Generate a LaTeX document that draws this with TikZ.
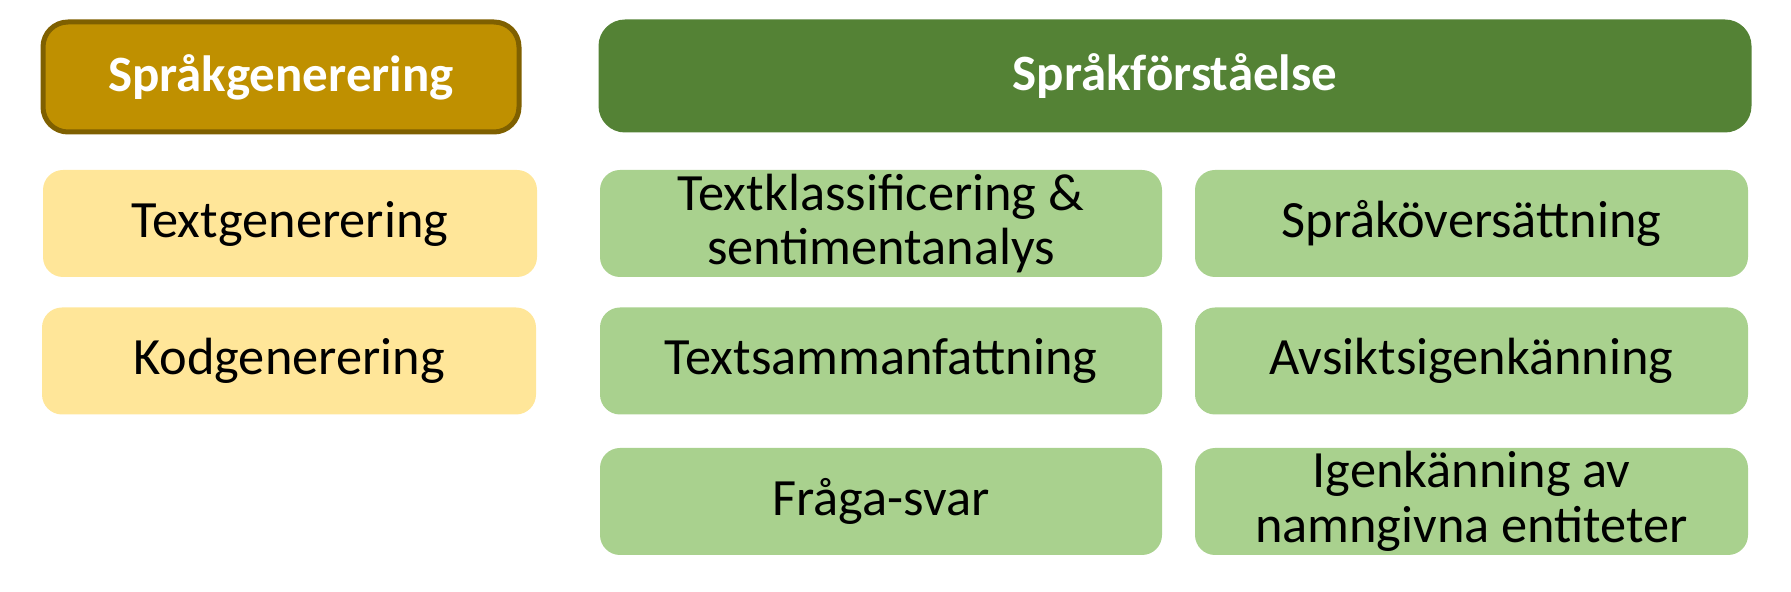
\documentclass[tikz,border=0pt]{standalone}
\usepackage{fontspec}
\setmainfont{Carlito}
\usepackage{tikz}

\definecolor{guld}{HTML}{BF9000}
\definecolor{guldkant}{HTML}{7F6000}
\definecolor{gulruta}{HTML}{FFE699}
\definecolor{gron}{HTML}{548235}
\definecolor{gronruta}{HTML}{A9D18E}

\tikzset{
  rubrik/.style={rounded corners=2.5mm, inner sep=0pt, minimum height=11mm,
      text=white, font=\fontsize{14.5}{15}\selectfont\bfseries},
  ruta/.style={rounded corners=2mm, inner sep=0pt, minimum height=10.7mm,
      align=center, font=\fontsize{14.9}{15.6}\selectfont},
}

\begin{document}
\begin{tikzpicture}[x=0.1mm, y=-0.1mm]
    \useasboundingbox (0,0) rectangle (1791,592);

    % sprakgenerering
    \node [rubrik, fill=guld, draw=guldkant, line width=0.5mm, minimum width=47.6mm]
          (gen) at (281,77) {Språkgenerering};
    \node [ruta, fill=gulruta, minimum width=49.4mm] (textgen) at (290,223.5) {Textgenerering};
    \node [ruta, fill=gulruta, minimum width=49.4mm] (kodgen) at (289,361) {Kodgenerering};

    % sprakforstaelse
    \node [rubrik, fill=gron, draw=gron, line width=0.3mm, minimum width=115mm]
          (forst) at (1175,76) {Språkförståelse};
    \node [ruta, fill=gronruta, minimum width=56.2mm] (klass) at (881,223.5)
          {Textklassificering \&\\ sentimentanalys};
    \node [ruta, fill=gronruta, minimum width=55.3mm] (overs) at (1471.5,223.5) {Språköversättning};
    \node [ruta, fill=gronruta, minimum width=56.2mm] (samman) at (881,361) {Textsammanfattning};
    \node [ruta, fill=gronruta, minimum width=55.3mm] (avsikt) at (1471.5,361) {Avsiktsigenkänning};
    \node [ruta, fill=gronruta, minimum width=56.2mm] (fraga) at (881,501.5) {Fråga-svar};
    \node [ruta, fill=gronruta, minimum width=55.3mm] (entitet) at (1471.5,501.5)
          {Igenkänning av\\ namngivna entiteter};
\end{tikzpicture}
\end{document}
